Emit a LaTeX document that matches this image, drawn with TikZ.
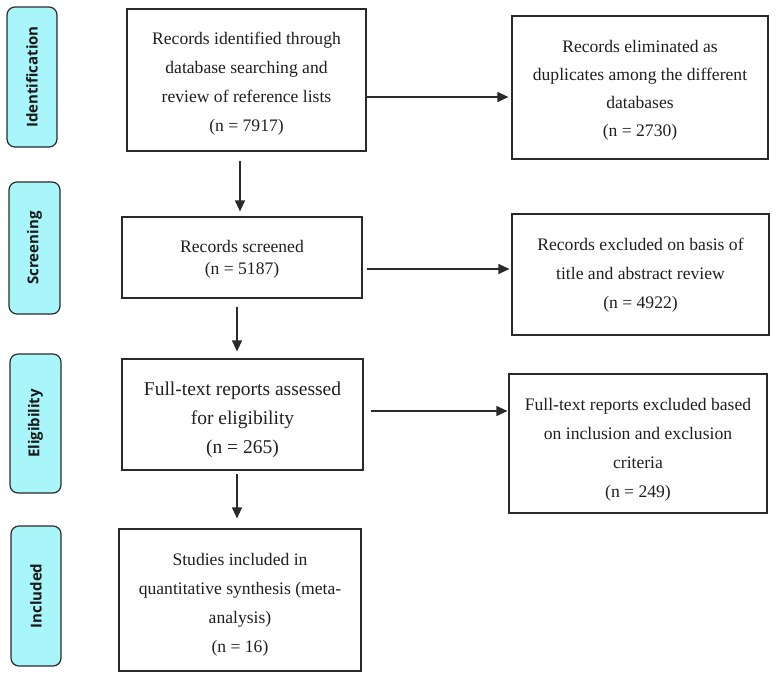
\documentclass[tikz,border=0pt]{standalone}
\usepackage{fontspec}
\setmainfont{Liberation Serif}
\newfontfamily\stagefont{Open Sans}
\usetikzlibrary{arrows.meta}
\definecolor{stagefill}{HTML}{A8F6FA}
\definecolor{linegray}{HTML}{2A2A2A}
\tikzset{
  boxstyle/.style={draw=linegray, line width=1.2pt, inner sep=0pt},
  txt/.style={align=center, inner sep=0pt, font=\fontsize{17.6}{29}\selectfont, text=black!88},
  bigtxt/.style={txt, font=\fontsize{19.5}{29}\selectfont},
  stagebox/.style={draw=linegray, line width=1.2pt, fill=stagefill, rounded corners=8pt,
    minimum width=50pt, inner sep=0pt},
  stagetext/.style={rotate=90, font=\stagefont\bfseries\fontsize{15}{16}\selectfont, text=black!90},
  arr/.style={draw=linegray, line width=1.2pt, -{Triangle[length=11pt,width=10pt]}}
}
\begin{document}
\begin{tikzpicture}[x=1pt,y=-1pt]
\useasboundingbox (0,0) rectangle (778,678);
% stage boxes
\node[stagebox, minimum height=140pt] (s1) at (32,77) {};
\node[stagetext] (t1) at (s1.center) {Identification};
\node[stagebox, minimum height=132pt, minimum width=51pt] (s2) at (34.5,248) {};
\node[stagetext] (t2) at (s2.center) {Screening};
\node[stagebox, minimum height=139pt, minimum width=51pt] (s3) at (35.5,423.5) {};
\node[stagetext] (t3) at (s3.center) {Eligibility};
\node[stagebox, minimum height=140pt] (s4) at (36,596) {};
\node[stagetext] (t4) at (s4.center) {Included};
% main boxes
\node[boxstyle, minimum width=239pt, minimum height=142pt] (b1) at (246.5,80) {};
\node[txt] (l1) at ([yshift=-4pt]b1.center)
  {Records identified through\\database searching and\\review of reference lists\\(n = 7917)};
\node[boxstyle, minimum width=256pt, minimum height=143pt] (b2) at (640,87.5) {};
\node[txt] (l2) at ([yshift=-3pt]b2.center)
  {Records eliminated as\\[-1pt]duplicates among the different\\[-1pt]databases\\[-1pt](n = 2730)};
\node[boxstyle, minimum width=240pt, minimum height=81pt] (b3) at (242,257.5) {};
\node[txt] (l3) at ([yshift=-2pt]b3.center)
  {Records screened\\[-7pt](n = 5187)};
\node[boxstyle, minimum width=257pt, minimum height=121pt] (b4) at (640.5,274.5) {};
\node[txt] (l4) at ([yshift=-1pt]b4.center)
  {Records excluded on basis of\\title and abstract review\\(n = 4922)};
\node[boxstyle, minimum width=241pt, minimum height=111pt] (b5) at (242.5,414.5) {};
\node[bigtxt] (l5) at ([yshift=-5pt]b5.center)
  {Full-text reports assessed\\for eligibility\\(n = 265)};
\node[boxstyle, minimum width=258pt, minimum height=139pt] (b6) at (638,443.5) {};
\node[txt] (l6) at ([yshift=-6pt]b6.center)
  {Full-text reports excluded based\\on inclusion and exclusion\\criteria\\(n = 249)};
\node[boxstyle, minimum width=242pt, minimum height=142pt] (b7) at (240,600) {};
\node[txt] (l7) at ([yshift=-5pt]b7.center)
  {Studies included in\\quantitative synthesis (meta-\\analysis)\\(n = 16)};
% vertical arrows
\draw[arr, shorten >=5pt] ([xshift=-6.5pt,yshift=-9pt]b1.south) -- ([xshift=-6.5pt]b1.south |- b3.north);
\draw[arr, shorten >=7pt] ([xshift=-5pt,yshift=-8pt]b3.south) -- ([xshift=-5pt]b3.south |- b5.north);
\draw[arr, shorten >=10pt] ([xshift=-5.5pt,yshift=-3pt]b5.south) -- ([xshift=-5.5pt]b5.south |- b7.north);
% horizontal arrows
\draw[arr, shorten >=3pt] ([yshift=-17pt]b1.east) -- ([yshift=-17pt]b1.east -| b2.west);
\draw[arr, shorten <=4pt, shorten >=2pt] ([yshift=-11.5pt]b3.east) -- ([yshift=-11.5pt]b3.east -| b4.west);
\draw[arr, shorten <=7pt, shorten >=1pt] ([yshift=3.5pt]b5.east) -- ([yshift=3.5pt]b5.east -| b6.west);
\end{tikzpicture}
\end{document}
